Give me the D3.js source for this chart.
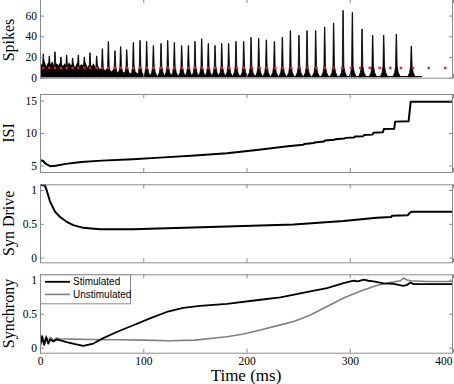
<!DOCTYPE html>
<html>
<head>
<meta charset="utf-8">
<script src="https://cdn.jsdelivr.net/npm/d3@7"></script>
<style>
  html, body { margin: 0; padding: 0; background: #fff; }
  svg { display: block; }
  .ylab, .xlab { font-family: "Liberation Serif", "Times New Roman", serif; font-size: 16px; fill: #000; }
  .leg { font-family: "Liberation Sans", Arial, sans-serif; font-size: 10px; fill: #000; }
</style>
</head>
<body>
<svg id="chart" width="454" height="384"></svg>
<script>
// ---- data ----
// spike train: peak times (ms) and peak heights
const peakTimes = [3.2, 9.0, 14.5, 20.3, 25.8, 31.6, 37.1, 42.9, 48.4, 54.9,
  60.4, 66.2, 72.6, 78.1, 84.0, 90.4, 96.9, 103.3, 109.8, 117.2,
  123.7, 130.1, 137.2, 143.7, 150.1, 156.6, 163.0, 169.5, 176.0,
  182.7, 189.8, 197.3, 204.4, 211.8, 219.2, 227.0, 234.7, 242.5, 250.8,
  258.6, 267.0, 275.7, 284.4, 293.5, 302.5, 311.9, 322.2, 332.9, 345.1, 359.6];
const peakHeights = [23, 21, 25, 20, 22, 19, 22, 20, 24, 21,
  28, 35, 26, 30, 27, 34, 36, 35, 31, 33,
  36, 34, 31, 31, 35, 37.5, 33, 31, 33,
  33, 35, 35, 39, 38, 36.5, 35, 39, 45.5, 41,
  45.5, 45.5, 49, 52.7, 65, 63, 47, 41, 41, 42, 30.5];
// dense activity at the start (jagged envelope of the black band)
const noiseT = [0, 2, 4, 6, 8, 10, 12, 14, 16, 18, 20, 22, 24, 26, 28, 30, 32, 34, 36, 38,
  40, 42, 44, 46, 48, 50, 52, 54, 56, 58, 60, 63, 66, 69, 72, 75, 78, 81, 84, 88, 92, 96, 100];
const noiseHi = [15, 12, 17, 11, 15, 13, 16, 10, 14, 12, 16, 11, 14, 10, 15, 12, 14, 10, 15, 11,
  13, 12, 15, 10, 13, 11, 14, 9, 12, 8, 11, 7, 10, 6, 9, 5, 8, 5, 7, 4, 6, 3, 3];
const noiseLo = [2, 1, 2, 1, 2, 1, 2, 1, 2, 1, 2, 1, 2, 1, 2, 1, 2, 1, 2, 1,
  2, 1, 2, 1, 2, 1, 2, 1, 1.5, 1, 1.5, 1, 1.5, 1, 1.5, 1, 1, 1, 1, 1, 1, 1, 1];
const baseEnd = 370;
// red markers
const dotTimes = [3.2, 9.0, 14.5, 20.3, 25.8, 31.6, 37.1, 42.9, 48.4, 54.9,
  60.4, 66.2, 72.6, 78.1, 84.0, 90.4, 96.9, 103.3, 109.8, 117.2,
  123.7, 130.1, 137.2, 143.7, 150.1, 156.6, 163.0, 169.5, 176.0,
  183.3, 190.8, 197.3, 205.3, 212.7, 219.9, 227.9, 235.4, 243.4, 251.5,
  259.2, 267.6, 275.7, 283.8, 292.5, 301.2, 310.2, 319.3, 329.0, 339.3,
  349.6, 361.3, 376.5, 392.5];
const dotLevel = 9.5;

// ISI
const isiT = [0, 3, 6, 10, 15, 25, 40, 60, 90, 120, 150, 181, 210, 240, 255, 256, 265, 266,
  275, 276, 285, 286, 295, 296, 304, 305, 313, 314, 322, 323, 332, 333, 343, 344, 357, 359, 400];
const isiV = [5.85, 5.7, 5.2, 4.9, 4.95, 5.25, 5.55, 5.75, 5.95, 6.25, 6.55, 6.9, 7.4, 7.95, 8.2, 8.3, 8.45, 8.55,
  8.7, 8.85, 8.95, 9.05, 9.15, 9.25, 9.3, 9.45, 9.5, 9.7, 9.75, 10.05, 10.1, 10.6, 10.65, 11.75, 11.8, 14.8, 14.8];

// Syn Drive
const synT = [0, 4.8, 7, 9.7, 14.5, 19.4, 25.8, 32.3, 42, 58, 90, 181, 245.7, 294, 326, 340, 341, 356, 358, 360, 400];
const synV = [1.07, 1.07, 0.97, 0.83, 0.68, 0.6, 0.53, 0.48, 0.44, 0.42, 0.42, 0.46, 0.49, 0.54, 0.59, 0.6, 0.62, 0.625, 0.66, 0.68, 0.68];

// Synchrony
const stimT = [0, 2, 4, 6, 8, 10, 13, 16, 19, 25.8, 34, 42, 51.6, 61.3, 74.3, 90.4, 106.5, 122.7, 138.8, 155, 181,
  213.4, 232.8, 261.8, 278, 294, 303.8, 308, 313.5, 318, 323, 332.9, 342.5, 352, 355, 358.7, 361.8, 400];
const stimV = [0.015, 0.16, 0.04, 0.15, 0.06, 0.12, 0.09, 0.12, 0.11, 0.08, 0.05, 0.025, 0.06, 0.14, 0.23, 0.33, 0.43, 0.525, 0.585, 0.615, 0.645,
  0.705, 0.74, 0.83, 0.875, 0.95, 0.985, 0.975, 1.0, 0.985, 0.975, 0.945, 0.94, 0.91, 0.92, 0.96, 0.935, 0.935];
const unstT = [0, 2, 4, 6, 8, 10, 13, 16, 19, 30, 50, 75, 100, 125, 150, 181, 197, 213.4, 229, 245.7, 261.8, 278, 294, 310,
  326, 336, 349, 352, 355, 358.7, 374.8, 400];
const unstV = [0.02, 0.18, 0.06, 0.17, 0.08, 0.15, 0.11, 0.14, 0.13, 0.125, 0.12, 0.115, 0.11, 0.1, 0.11, 0.16, 0.2, 0.26, 0.32, 0.385, 0.48, 0.605, 0.73, 0.83,
  0.915, 0.95, 0.985, 1.025, 1.0, 0.985, 0.975, 0.975];

const xTicks = [0, 100, 200, 300, 400];

(function () {
  const svg = d3.select('#chart');
  const L = 40, R = 453;
  const x = d3.scaleLinear().domain([0, 400]).range([L, R]);
  const frame = '#8a8a8a';
  const serif = '"Liberation Serif", "Times New Roman", serif';

  const panels = [
    { top: -1, bottom: 77.7, domain: [0, 76], ticks: [0, 20, 40, 60], label: 'Spikes', labelY: 40 },
    { top: 94, bottom: 172, domain: [4, 16], ticks: [5, 10, 15], label: 'ISI' },
    { top: 184.3, bottom: 262.3, domain: [-0.07, 1.085], ticks: [0, 0.5, 1], label: 'Syn Drive' },
    { top: 274.3, bottom: 352.7, domain: [-0.075, 1.08], ticks: [0, 0.5, 1], label: 'Synchrony' }
  ];

  panels.forEach((p, i) => {
    p.y = d3.scaleLinear().domain(p.domain).range([p.bottom, p.top]);
    const g = svg.append('g');
    const clipId = 'clip' + i;
    svg.append('clipPath').attr('id', clipId)
      .append('rect').attr('x', L).attr('y', p.top).attr('width', R - L).attr('height', p.bottom - p.top);
    p.plot = g.append('g').attr('clip-path', `url(#${clipId})`);

    const fmt = d => String(d);
    const isLast = i === panels.length - 1;
    const ax = (gen, tr) => {
      const a = g.append('g').attr('transform', tr).call(gen)
        .attr('font-family', serif).attr('font-size', 11.5);
      a.select('.domain').remove();
      a.selectAll('.tick line').attr('stroke', frame);
      a.selectAll('.tick text').attr('fill', '#000');
      return a;
    };
    ax(d3.axisLeft(p.y).tickValues(p.ticks).tickSize(-4).tickPadding(3).tickFormat(fmt), `translate(${L},0)`);
    ax(d3.axisRight(p.y).tickValues(p.ticks).tickSize(-4).tickFormat(''), `translate(${R},0)`);
    ax(d3.axisTop(x).tickValues(xTicks).tickSize(-4).tickFormat(''), `translate(0,${p.top})`);
    const bx = ax(d3.axisBottom(x).tickValues(xTicks).tickSize(-4).tickPadding(4)
      .tickFormat(isLast ? fmt : ''), `translate(0,${p.bottom})`);
    if (isLast) bx.selectAll('.tick text').filter(d => d === 400).attr('text-anchor', 'end').attr('dx', -1);

    svg.append('text').attr('class', 'ylab')
      .attr('transform', `translate(13.5,${p.labelY || (p.top + p.bottom) / 2}) rotate(-90)`)
      .attr('text-anchor', 'middle').text(p.label);
  });

  // ---- Spikes ----
  const P1 = panels[0];
  const band = noiseT.map((t, i) => ({ t, hi: noiseHi[i], lo: noiseLo[i] }));
  P1.plot.append('path').datum(band)
    .attr('fill', '#000')
    .attr('d', d3.area().x(d => x(d.t)).y0(d => P1.y(d.lo)).y1(d => P1.y(d.hi)));
  P1.plot.append('line')
    .attr('x1', x(0)).attr('x2', x(baseEnd))
    .attr('y1', P1.y(1)).attr('y2', P1.y(1))
    .attr('stroke', '#000').attr('stroke-width', 1.2);
  const spikes = peakTimes.map((t, i) => ({ t, h: peakHeights[i] }));
  const spikeLine = d3.line().x(d => x(d[0])).y(d => P1.y(d[1]));
  P1.plot.selectAll('.spike').data(spikes).enter().append('path')
    .attr('class', 'spike')
    .attr('fill', '#000').attr('stroke', '#000').attr('stroke-width', 0.8)
    .attr('d', d => spikeLine([[d.t - 3.4, 0.8], [d.t - 1.6, 5], [d.t - 0.7, 11], [d.t - 0.2, d.h],
      [d.t + 0.2, d.h], [d.t + 0.8, 11], [d.t + 1.9, 5], [d.t + 3.8, 0.8]]) + 'Z');
  P1.plot.selectAll('.dot').data(dotTimes).enter().append('rect')
    .attr('class', 'dot')
    .attr('x', d => x(d) - 1.2).attr('y', P1.y(dotLevel) - 1.2)
    .attr('width', 2.4).attr('height', 2.4).attr('fill', '#f0202a');

  // ---- line panels ----
  const drawLine = (p, ts, vs, color, w) => {
    const pts = ts.map((t, i) => [t, vs[i]]);
    p.plot.append('path').datum(pts)
      .attr('fill', 'none').attr('stroke', color).attr('stroke-width', w)
      .attr('stroke-linejoin', 'round')
      .attr('d', d3.line().x(d => x(d[0])).y(d => p.y(d[1])));
  };
  drawLine(panels[1], isiT, isiV, '#000', 2);
  drawLine(panels[2], synT, synV, '#000', 2);
  drawLine(panels[3], unstT, unstV, '#808080', 1.6);
  drawLine(panels[3], stimT, stimV, '#000', 1.8);

  // frames on top
  panels.forEach(p => {
    svg.append('rect').attr('x', L + 0.5).attr('y', p.top + 0.5)
      .attr('width', R - L - 1).attr('height', p.bottom - p.top)
      .attr('fill', 'none').attr('stroke', frame).attr('stroke-width', 1);
  });

  // ---- legend ----
  const P4 = panels[3];
  const lg = svg.append('g');
  lg.append('rect').attr('x', L + 0.5).attr('y', P4.top + 0.5).attr('width', 90).attr('height', 29)
    .attr('fill', '#fff').attr('stroke', frame);
  const items = [{ name: 'Stimulated', color: '#000', w: 1.8 }, { name: 'Unstimulated', color: '#808080', w: 1.6 }];
  items.forEach((it, i) => {
    const yy = P4.top + 7.5 + i * 12.6;
    lg.append('line').attr('x1', 45).attr('x2', 70).attr('y1', yy).attr('y2', yy)
      .attr('stroke', it.color).attr('stroke-width', it.w);
    lg.append('text').attr('class', 'leg').attr('x', 73).attr('y', yy + 3.5).text(it.name);
  });

  svg.append('text').attr('class', 'xlab').attr('x', 246).attr('y', 381)
    .attr('text-anchor', 'middle').style('font-size', '17px').text('Time (ms)');
})();
</script>
</body>
</html>
